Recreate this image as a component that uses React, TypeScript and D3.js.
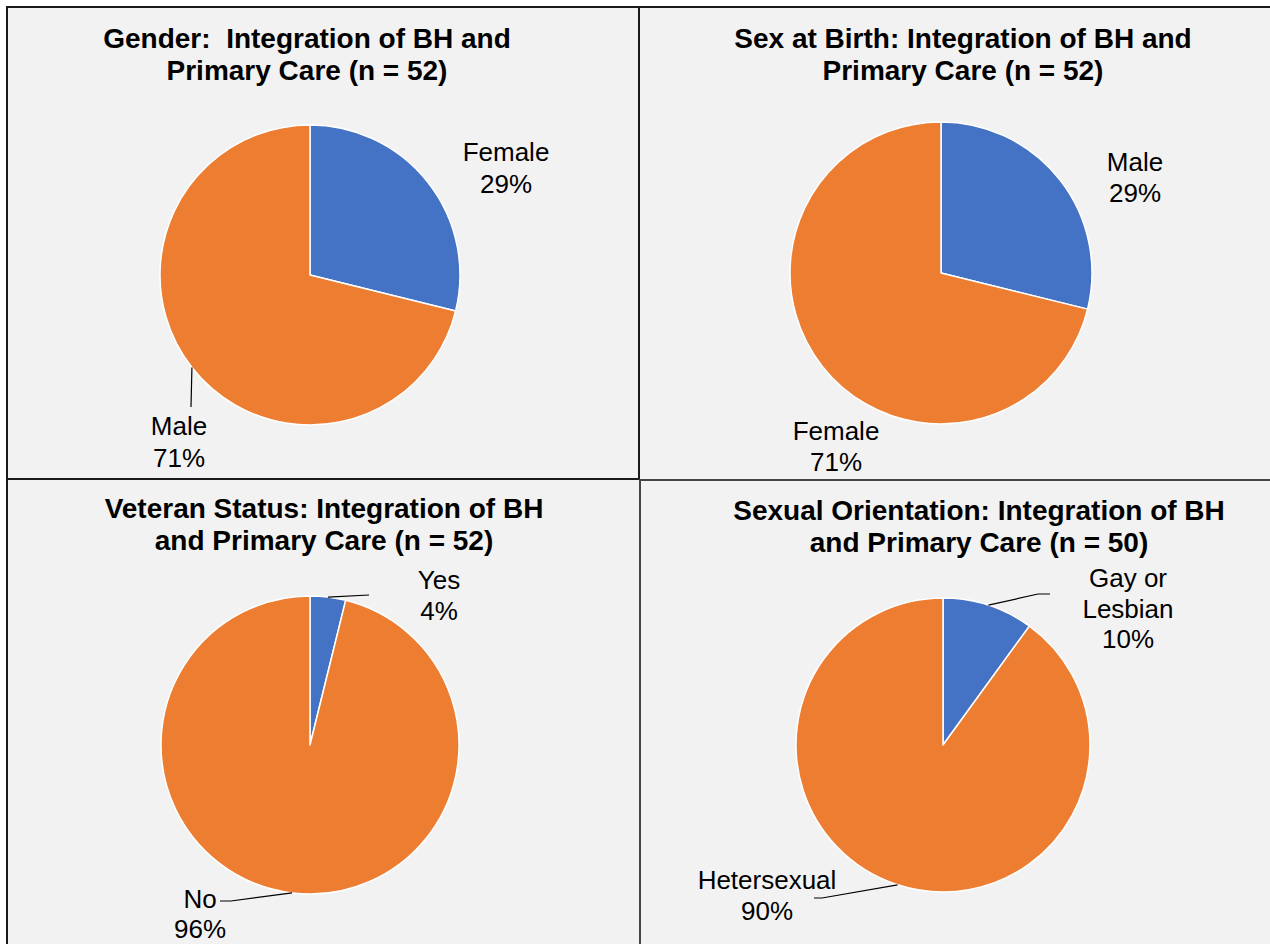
import React from "react";
import * as d3 from "d3";

// ---- data ----
const genderCategories = ["Female", "Male"];
const genderValues = [15, 37];
const sexCategories = ["Male", "Female"];
const sexValues = [15, 37];
const veteranCategories = ["Yes", "No"];
const veteranValues = [2, 50];
const orientationCategories = ["Gay or Lesbian", "Hetersexual"];
const orientationValues = [5, 45];
const percentLabels = {
  gender: ["29%", "71%"],
  sex: ["29%", "71%"],
  veteran: ["4%", "96%"],
  orientation: ["10%", "90%"],
};
const titles = {
  gender: ["Gender:  Integration of BH and", "Primary Care (n = 52)"],
  sex: ["Sex at Birth: Integration of BH and", "Primary Care (n = 52)"],
  veteran: ["Veteran Status: Integration of BH", "and Primary Care (n = 52)"],
  orientation: ["Sexual Orientation: Integration of BH", "and Primary Care (n = 50)"],
};

const COLORS = ["#4472C4", "#ED7D31"];

type LabelSpec = {
  lines: string[];
  x: number;
  y: number; // center of first line
  lh?: number;
  leader?: [number, number][]; // extra points after arc anchor
};

type Panel = {
  key: string;
  title: string[];
  titleX: number;
  titleY: number;
  cx: number;
  cy: number;
  r: number;
  cats: string[];
  values: number[];
  labels: LabelSpec[];
};

const panels: Panel[] = [
  {
    key: "gender",
    title: titles.gender,
    titleX: 307,
    titleY: 38,
    cx: 310,
    cy: 275,
    r: 150,
    cats: genderCategories,
    values: genderValues,
    labels: [
      { lines: [genderCategories[0], percentLabels.gender[0]], x: 506, y: 152, lh: 32 },
      {
        lines: [genderCategories[1], percentLabels.gender[1]],
        x: 179,
        y: 426,
        lh: 32,
        leader: [[191, 407]],
      },
    ],
  },
  {
    key: "sex",
    title: titles.sex,
    titleX: 963,
    titleY: 38,
    cx: 941,
    cy: 273,
    r: 151,
    cats: sexCategories,
    values: sexValues,
    labels: [
      { lines: [sexCategories[0], percentLabels.sex[0]], x: 1135, y: 162 },
      { lines: [sexCategories[1], percentLabels.sex[1]], x: 836, y: 431 },
    ],
  },
  {
    key: "veteran",
    title: titles.veteran,
    titleX: 324,
    titleY: 508,
    cx: 310,
    cy: 745,
    r: 149,
    cats: veteranCategories,
    values: veteranValues,
    labels: [
      {
        lines: [veteranCategories[0], percentLabels.veteran[0]],
        x: 439,
        y: 580,
        leader: [[369, 595]],
      },
      {
        lines: [veteranCategories[1], percentLabels.veteran[1]],
        x: 200,
        y: 899,
        lh: 29.5,
        leader: [[231, 901], [220, 901]],
      },
    ],
  },
  {
    key: "orientation",
    title: titles.orientation,
    titleX: 979,
    titleY: 510,
    cx: 943,
    cy: 745,
    r: 147,
    cats: orientationCategories,
    values: orientationValues,
    labels: [
      {
        lines: ["Gay or", "Lesbian", percentLabels.orientation[0]],
        x: 1128,
        y: 578,
        leader: [[1038, 594], [1050, 594]],
      },
      {
        lines: [orientationCategories[1], percentLabels.orientation[1]],
        x: 767,
        y: 880,
        leader: [[822, 898], [814, 898]],
      },
    ],
  },
];

const TITLE_LH = 32;
const LABEL_LH = 30.5;

function PiePanel({ p }: { p: Panel }) {
  const pie = d3
    .pie<number>()
    .sort(null)
    .value((d) => d)
    .startAngle(0)
    .endAngle(2 * Math.PI);
  const arcs = pie(p.values);
  const arc = d3.arc<d3.PieArcDatum<number>>().innerRadius(0).outerRadius(p.r);
  const anchorArc = d3
    .arc<d3.PieArcDatum<number>>()
    .innerRadius(p.r)
    .outerRadius(p.r);
  const line = d3.line();

  return (
    <g>
      {p.title.map((t, i) => (
        <text
          key={i}
          x={p.titleX}
          y={p.titleY + i * TITLE_LH}
          dy="0.35em"
          textAnchor="middle"
          fontFamily="'Liberation Sans', Arial, sans-serif"
          fontWeight="bold"
          fontSize={28}
          fill="#000"
          style={{ whiteSpace: "pre" }}
        >
          {t}
        </text>
      ))}
      <g transform={`translate(${p.cx},${p.cy})`}>
        {arcs.map((a, i) => (
          <path
            key={i}
            d={arc(a) || ""}
            fill={COLORS[i]}
            stroke="#ffffff"
            strokeWidth={1.5}
            strokeLinejoin="round"
          />
        ))}
      </g>
      {p.labels.map((l, i) => {
        const [ax, ay] = anchorArc.centroid(arcs[i]);
        const pts: [number, number][] = l.leader
          ? [[ax + p.cx, ay + p.cy], ...l.leader]
          : [];
        const lh = l.lh ?? LABEL_LH;
        return (
          <g key={i}>
            {l.leader && (
              <path d={line(pts) || ""} fill="none" stroke="#000" strokeWidth={1.2} />
            )}
            {l.lines.map((t, j) => (
              <text
                key={j}
                x={l.x}
                y={l.y + j * lh}
                dy="0.35em"
                textAnchor="middle"
                fontFamily="'Liberation Sans', Arial, sans-serif"
                fontSize={26}
                fill="#000"
              >
                {t}
              </text>
            ))}
          </g>
        );
      })}
    </g>
  );
}

export default function App() {
  return (
    <svg
      width={1270}
      height={944}
      style={{ position: "absolute", left: 0, top: 0, background: "#ffffff" }}
    >
      <rect x={7} y={7} width={1300} height={980} fill="#F2F2F2" stroke="#1a1a1a" strokeWidth={2} />
      <line x1={639} y1={7} x2={639} y2={480} stroke="#1a1a1a" strokeWidth={2} />
      <line x1={640} y1={480} x2={640} y2={944} stroke="#444" strokeWidth={2} />
      <line x1={7} y1={479} x2={640} y2={479} stroke="#1a1a1a" strokeWidth={2} />
      <line x1={639} y1={480} x2={1270} y2={480} stroke="#444" strokeWidth={2} />
      {panels.map((p) => (
        <PiePanel key={p.key} p={p} />
      ))}
    </svg>
  );
}
